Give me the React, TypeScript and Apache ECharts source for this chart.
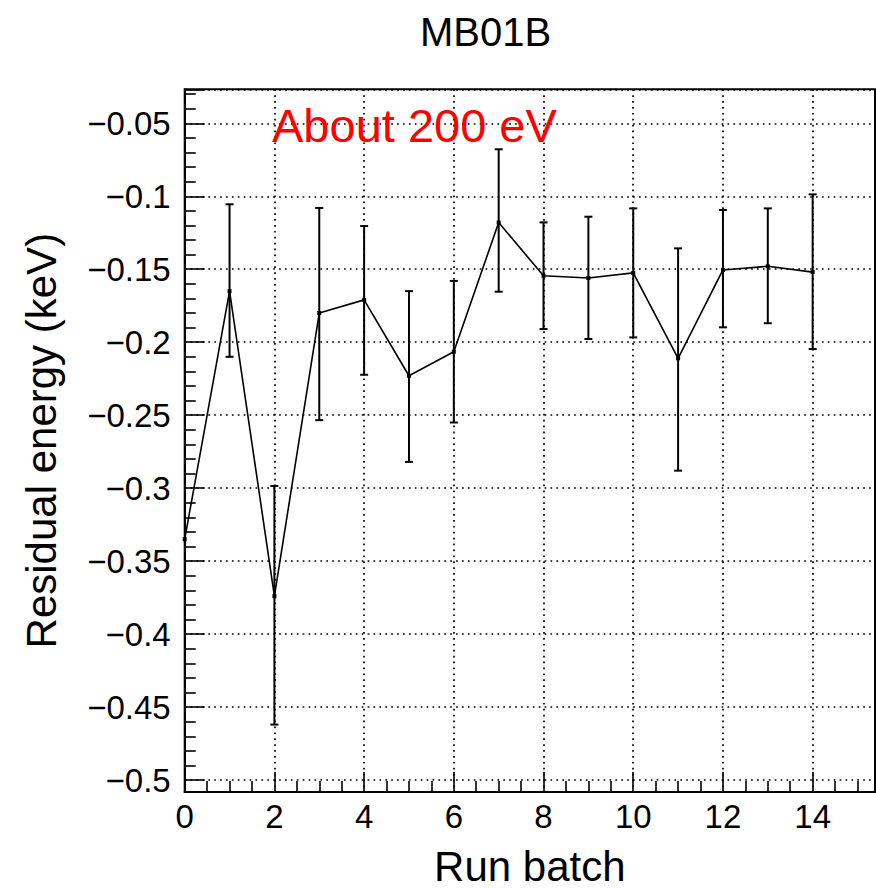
import React, { useEffect, useRef } from "react";
import * as echarts from "echarts";

const runBatch = [0, 1, 2, 3, 4, 5, 6, 7, 8, 9, 10, 11, 12, 13, 14];
const residual = [-0.335, -0.165, -0.374, -0.18, -0.171, -0.223, -0.2065, -0.118, -0.1545, -0.156, -0.1525, -0.211, -0.1505, -0.148, -0.152];
const errHigh = [null, -0.1055, -0.2985, -0.108, -0.1204, -0.165, -0.158, -0.0678, -0.1179, -0.114, -0.1083, -0.1357, -0.1094, -0.1083, -0.0987];
const errLow = [null, -0.21, -0.462, -0.2534, -0.2223, -0.282, -0.255, -0.1654, -0.191, -0.1978, -0.1967, -0.288, -0.1898, -0.187, -0.2047];

const chartTitle = "MB01B";
const xTitle = "Run batch";
const yTitle = "Residual energy (keV)";
const note = "About 200 eV";
const xMin = 0;
const xMax = 15.39;
const yMin = -0.5082;
const yMax = -0.0267;

const FONT = "'Liberation Sans', Arial, Helvetica, sans-serif";

export default function App() {
  const ref = useRef<HTMLDivElement>(null);
  useEffect(() => {
    if (!ref.current) return;
    const chart = echarts.init(ref.current, null, { renderer: "svg" });
    const lineData = runBatch.map((x, i) => [x, residual[i]]);
    const errData = runBatch
      .map((x, i) => [x, errLow[i], errHigh[i]])
      .filter((d) => d[1] !== null && d[2] !== null);
    const gridLine = { color: "#000", width: 1.7, type: [1.7, 4.2] as any };
    chart.setOption({
      animation: false,
      backgroundColor: "#fff",
      textStyle: { fontFamily: FONT },
      title: {
        text: chartTitle,
        left: 415,
        top: 7,
        textStyle: { fontFamily: FONT, fontSize: 40, fontWeight: "normal", color: "#000" },
      },
      graphic: [
        {
          type: "text",
          left: 272,
          top: 102,
          z: 100,
          style: { text: note, fill: "#ff0000", font: `47px ${FONT}` },
        },
      ],
      grid: {
        left: 184.7,
        top: 89.3,
        right: 1,
        bottom: 97,
        show: true,
        borderColor: "#000",
        borderWidth: 2,
        backgroundColor: "transparent",
        containLabel: false,
        outerBoundsMode: "none",
      },
      xAxis: {
        type: "value",
        min: xMin,
        max: xMax,
        splitNumber: 8,
        name: xTitle,
        nameLocation: "middle",
        nameGap: 53,
        nameMoveOverlap: false,
        nameTextStyle: { fontFamily: FONT, fontSize: 42, color: "#000" },
        axisLine: { show: true, lineStyle: { color: "#000", width: 2 } },
        axisTick: { show: true, inside: true, length: 20, lineStyle: { color: "#000", width: 1.6 } },
        minorTick: { show: true, splitNumber: 4, length: 11, lineStyle: { color: "#000", width: 1.6 } },
        axisLabel: {
          show: true,
          margin: 8,
          fontFamily: FONT,
          fontSize: 33,
          color: "#000",
          showMaxLabel: false,
          formatter: (v: number) => String(+v.toFixed(2)),
        },
        splitLine: { show: true, lineStyle: gridLine },
      },
      yAxis: {
        type: "value",
        min: yMin,
        max: yMax,
        splitNumber: 10,
        name: yTitle,
        nameLocation: "middle",
        nameGap: 122,
        nameMoveOverlap: false,
        nameTextStyle: { fontFamily: FONT, fontSize: 42, color: "#000" },
        axisLine: { show: true, lineStyle: { color: "#000", width: 2 } },
        axisTick: { show: true, inside: true, length: 20, lineStyle: { color: "#000", width: 1.6 } },
        minorTick: { show: true, splitNumber: 5, length: 11, lineStyle: { color: "#000", width: 1.6 } },
        axisLabel: {
          show: true,
          margin: 14,
          fontFamily: FONT,
          fontSize: 33,
          color: "#000",
          showMinLabel: false,
          showMaxLabel: false,
          formatter: (v: number) => String(+v.toFixed(3)).replace("-", "\u2212"),
        },
        splitLine: { show: true, lineStyle: gridLine },
      },
      series: [
        {
          type: "custom",
          name: "errors",
          data: errData,
          z: 3,
          renderItem: (params: any, api: any) => {
            const x = api.value(0);
            const lo = api.value(1);
            const hi = api.value(2);
            const p1 = api.coord([x, hi]);
            const p2 = api.coord([x, lo]);
            const cap = 4;
            const st = { stroke: "#000", lineWidth: 2 };
            return {
              type: "group",
              children: [
                { type: "line", shape: { x1: p1[0], y1: p1[1], x2: p2[0], y2: p2[1] }, style: st },
                { type: "line", shape: { x1: p1[0] - cap, y1: p1[1], x2: p1[0] + cap, y2: p1[1] }, style: st },
                { type: "line", shape: { x1: p2[0] - cap, y1: p2[1], x2: p2[0] + cap, y2: p2[1] }, style: st },
              ],
            };
          },
        },
        {
          type: "line",
          name: "residual",
          data: lineData,
          z: 4,
          symbol: "rect",
          symbolSize: 4,
          itemStyle: { color: "#000" },
          lineStyle: { color: "#000", width: 1.6 },
        },
      ],
    });
    return () => chart.dispose();
  }, []);
  return (
    <div
      ref={ref}
      style={{ position: "absolute", left: 0, top: 0, width: 876, height: 889 }}
    />
  );
}
